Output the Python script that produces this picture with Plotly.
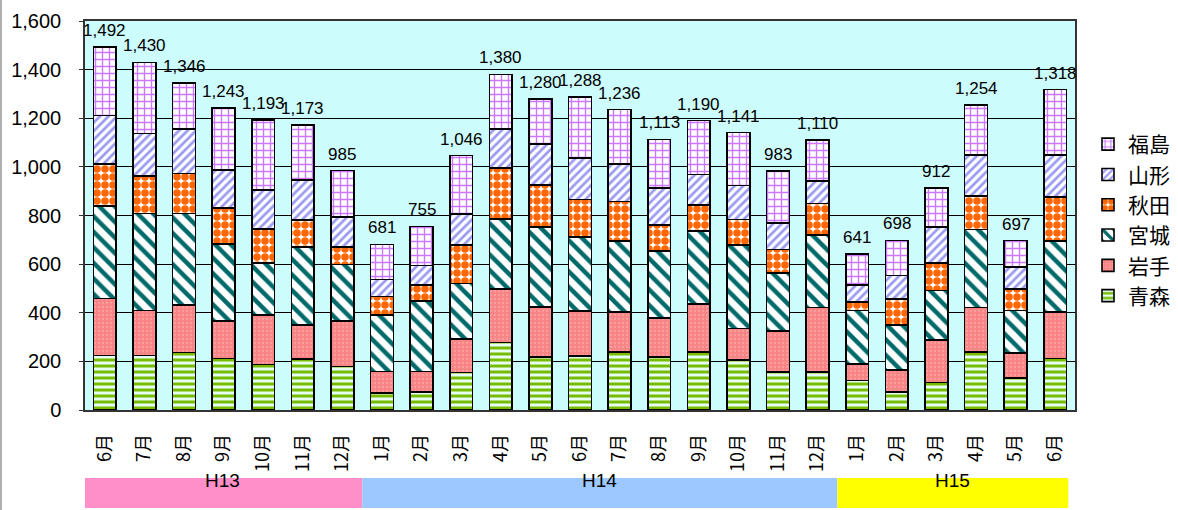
import plotly.graph_objects as go

# ---- data ----
months = ["6月", "7月", "8月", "9月", "10月", "11月", "12月",
          "1月", "2月", "3月", "4月", "5月", "6月", "7月", "8月", "9月", "10月", "11月", "12月",
          "1月", "2月", "3月", "4月", "5月", "6月"]
eras = ["H13", "H14", "H15"]
era_counts = [7, 12, 6]

aomori = [225, 225, 236, 212, 187, 209, 179,
          69, 74, 154, 278, 217, 223, 239, 217, 239, 206, 157, 157,
          121, 74, 113, 239, 132, 212]
iwate = [234, 185, 196, 154, 203, 140, 187,
         90, 85, 137, 220, 206, 184, 165, 162, 198, 129, 167, 264,
         69, 91, 176, 182, 102, 192]
miyagi = [379, 398, 376, 316, 215, 322, 233,
          231, 289, 229, 288, 330, 305, 292, 275, 300, 344, 240, 299,
          220, 184, 203, 321, 176, 292]
akita = [174, 154, 165, 148, 140, 110, 72,
         77, 66, 159, 209, 173, 154, 162, 108, 107, 105, 96, 129,
         35, 107, 113, 138, 88, 181]
yamagata = [200, 176, 182, 157, 159, 165, 124,
            69, 80, 126, 162, 168, 170, 154, 151, 124, 140, 110, 94,
            69, 97, 148, 170, 90, 173]
fukushima = [280, 292, 191, 256, 289, 227, 190,
             145, 161, 241, 223, 186, 252, 224, 200, 222, 217, 213, 167,
             127, 145, 159, 204, 109, 268]
totals = [1492, 1430, 1346, 1243, 1193, 1173, 985,
          681, 755, 1046, 1380, 1280, 1288, 1236, 1113, 1190, 1141, 983, 1110,
          641, 698, 912, 1254, 697, 1318]

series_names = ["青森", "岩手", "宮城", "秋田", "山形", "福島"]
series_values = [aomori, iwate, miyagi, akita, yamagata, fukushima]

# ---- styles ----
styles = {
    "青森": dict(bg="#e6fff4", fg="#77bb00", shape="-", size=6, solidity=0.5),
    "岩手": dict(bg="#f88585", fg="#ff9f9f", shape=".", size=4, solidity=0.25),
    "宮城": dict(bg="#ffffff", fg="#006a6a", shape="\\", size=11, solidity=0.4),
    "秋田": dict(bg="#ffffff", fg="#ff6600", shape=".", size=8, solidity=0.7),
    "山形": dict(bg="#ffffff", fg="#9a9af0", shape="/", size=6, solidity=0.45),
    "福島": dict(bg="#ffffff", fg="#cc77ff", shape="+", size=7, solidity=0.35),
}

W, H = 1178, 510
ML, MR, MT, MB = 85, 103, 21, 100
PW, PH = W - ML - MR, H - MT - MB

xs = list(range(len(months)))
text_font = "Liberation Sans, Arial, Noto Sans CJK JP"
cjk_font = "Noto Sans CJK JP, Liberation Sans"

fig = go.Figure()
for name, vals in zip(series_names, series_values):
    s = styles[name]
    fig.add_bar(
        x=xs, y=vals, name=name, width=0.58,
        marker=dict(
            color=s["fg"],
            line=dict(color="black", width=1.6),
            pattern=dict(shape=s["shape"], fgcolor=s["fg"], bgcolor=s["bg"],
                         size=s["size"], solidity=s["solidity"], fillmode="replace"),
        ),
        hovertemplate="%{y}<extra>" + name + "</extra>",
    )

# total labels above each stack
for xi, t in zip(xs, totals):
    fig.add_annotation(x=xi, y=t, xref="x", yref="y", text=f"{t:,}",
                       showarrow=False, yanchor="bottom", yshift=5,
                       font=dict(size=17, color="black", family=text_font))

# era bands under the axis
start = 0
band_colors = {"H13": "#ff8fc8", "H14": "#9cc8ff", "H15": "#ffff00"}
for i, (era, cnt) in enumerate(zip(eras, era_counts)):
    x0, x1 = start - 0.5, start + cnt - 0.5
    if i == 0:
        x0 -= 0.08
    if i == len(eras) - 1:
        x1 -= 0.17
    fig.add_shape(type="rect", xref="x", yref="paper", x0=x0, x1=x1,
                  y0=-0.252, y1=-0.175, fillcolor=band_colors[era],
                  line=dict(width=0), layer="above")
    fig.add_annotation(x=(x0 + x1) / 2, y=-0.2135, xref="x", yref="paper",
                       text=era, showarrow=False,
                       font=dict(size=19, color="black", family=text_font))
    start += cnt

# thin grey frame line at the left edge of the picture
fig.add_shape(type="line", xref="paper", yref="paper",
              x0=-(ML - 1) / PW, x1=-(ML - 1) / PW, y0=-MB / PH, y1=1 + MT / PH,
              line=dict(color="#b0b0b0", width=2))

fig.update_layout(
    width=W, height=H, autosize=False,
    margin=dict(l=ML, r=MR, t=MT, b=MB, autoexpand=False),
    barmode="stack", bargap=0.42,
    plot_bgcolor="#cdfcfc", paper_bgcolor="white",
    showlegend=True,
    legend=dict(traceorder="reversed", xref="container", yref="container",
                x=1088 / W, y=1 - 124 / H, xanchor="left", yanchor="top",
                font=dict(size=21, family=cjk_font, color="black"),
                bgcolor="rgba(0,0,0,0)", itemwidth=30),
    font=dict(family=text_font, color="black"),
)
fig.update_xaxes(
    range=[-0.5, len(months) - 0.5], tickvals=xs, ticktext=months,
    tickangle=-90, tickfont=dict(size=18, family=cjk_font),
    showgrid=False, showline=True, linecolor="#333333", linewidth=1.5, mirror=True,
    ticks="outside", ticklen=15, tickcolor="rgba(0,0,0,0)", zeroline=False,
)
fig.update_yaxes(
    range=[0, 1600], dtick=200, tickformat=",",
    tickfont=dict(size=20, family=text_font),
    showgrid=True, gridcolor="black", gridwidth=1,
    showline=True, linecolor="#333333", linewidth=1.5, mirror=True,
    ticks="outside", ticklen=4, tickcolor="#333333", zeroline=False,
    ticklabelstandoff=14,
)

post = (
    "document.documentElement.style.overflow='hidden';"
    "document.body.style.margin='0px';document.body.style.overflow='hidden';"
    "var gd=document.getElementById('{plot_id}');"
    "Plotly.relayout(gd,{width:%d,height:%d});" % (W, H)
)
fig.write_html("out.html", config={"displayModeBar": False, "responsive": False},
               post_script=post)
